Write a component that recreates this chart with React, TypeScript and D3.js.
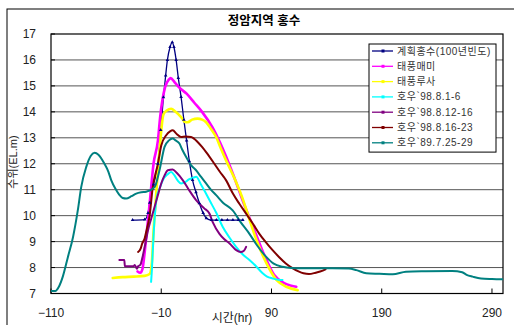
import * as d3 from "d3";

const W = 514;
const H = 325;

const xTicks = [-110, -10, 90, 190, 290];
const yTicks = [7, 8, 9, 10, 11, 12, 13, 14, 15, 16, 17];

// [hour, water level EL.m]
const planFlood = [
  [-36, 9.83], [-25, 9.85], [-22, 10.1], [-20.5, 10.5], [-17, 11.2], [-13, 12.0],
  [-10.5, 13.3], [-8, 14.56], [-6, 15.4], [-4.4, 16.0], [-2, 16.5], [0, 16.68],
  [1.5, 16.5], [3.5, 16.0], [5.5, 15.3], [8, 14.57], [10.5, 13.7], [13, 12.9],
  [15.5, 12.1], [18.4, 11.37], [21.5, 10.9], [24.6, 10.48], [28, 10.1], [31, 9.9],
  [35.5, 9.83], [40, 9.83], [45, 9.83], [50, 9.83], [55, 9.83], [60, 9.83], [64, 9.83],
];
const maemi = [
  [-31.5, 7.85], [-29, 7.8], [-27, 7.95], [-25, 8.6], [-23.5, 9.2], [-20, 10.7],
  [-17, 12.0], [-13, 12.9], [-11, 13.8], [-6.5, 14.95], [-3, 15.25], [-1.5, 15.3],
  [2, 15.15], [6, 14.95], [13, 14.7], [20, 14.35], [27, 14.0], [36.5, 13.4],
  [43, 12.85], [49, 12.26], [56, 11.5], [65.5, 10.4], [74.5, 9.44], [83.5, 8.48],
  [92.5, 7.71], [101.5, 7.4], [108, 7.3], [112.5, 7.26],
];
const rusa = [
  [-54, 7.6], [-45, 7.63], [-35, 7.65], [-25, 7.68], [-20.5, 7.75], [-18.5, 8.2],
  [-17, 9.4], [-15, 10.6], [-11.6, 12.5], [-8, 13.9], [-5, 14.05], [-1, 14.12],
  [3, 14.0], [8, 13.8], [12, 13.6], [14, 13.6], [18, 13.7], [23, 13.74], [27, 13.7],
  [30.7, 13.6], [35, 13.35], [39.8, 13.03], [44, 12.6], [48.8, 12.13], [56.4, 11.44],
  [64.3, 10.6], [70, 9.85], [76.4, 9.06], [85.5, 8.16], [94.5, 7.52], [104, 7.25],
  [113.7, 7.13],
];
const rain980801 = [
  [-19.2, 7.45], [-18.5, 7.9], [-17.5, 8.8], [-16, 9.9], [-14, 10.72], [-11, 11.1],
  [-8.5, 11.37], [-4, 11.6], [-1, 11.68], [2, 11.55], [5, 11.35], [8, 11.24],
  [12, 11.3], [15, 11.4], [18.5, 11.45], [21.7, 11.5], [26, 11.2], [30, 10.9],
  [33.7, 10.6], [40, 10.1], [45.7, 9.57], [52, 9.15], [57.9, 8.8], [64, 8.5],
  [70, 8.29], [76, 8.05], [82, 7.78], [86, 7.65], [91, 7.58], [96, 7.53], [100, 7.52],
];
const rain980812 = [
  [-48, 8.29], [-43.5, 8.29], [-43, 8.05], [-35, 8.05], [-34, 8.1], [-32, 7.95],
  [-31, 8.05], [-29, 8.1], [-27, 8.4], [-25, 8.8], [-22, 9.44], [-19, 9.9],
  [-16, 10.34], [-13, 10.8], [-10, 11.24], [-7, 11.55], [-4, 11.75], [0.4, 11.78],
  [4, 11.65], [9.5, 11.37], [15, 11.0], [21.6, 10.6], [26, 10.4], [29, 10.28],
  [33.7, 10.08], [36.7, 9.75], [42.8, 9.3], [47, 9.1], [52, 8.93], [58, 8.67],
  [62, 8.6], [65, 8.65], [67, 8.8],
];
const rain980816 = [
  [-31, 8.6], [-28.5, 8.75], [-27.5, 8.9], [-25, 9.13], [-23, 9.5], [-20.7, 9.95],
  [-17.7, 11.1], [-13, 12.0], [-10, 12.7], [-5.5, 13.1], [-2, 13.25], [0.4, 13.29],
  [4, 13.15], [8, 13.03], [12, 13.05], [17, 13.03], [23, 12.84], [27, 12.65],
  [30.7, 12.45], [38.2, 12.0], [43, 11.7], [49, 11.35], [55, 10.85], [61, 10.45],
  [67, 10.08], [73, 9.7], [79, 9.3], [85, 8.97], [91, 8.67], [97, 8.4], [103, 8.16],
  [109, 7.98], [115, 7.84], [119, 7.78], [124, 7.75], [130, 7.8], [136.5, 7.88],
  [139, 7.93],
];
const rain890725 = [
  [-110, 7.1], [-106, 7.1], [-103, 7.25], [-99.3, 7.65], [-94.7, 8.4], [-90, 9.18],
  [-85.7, 10.2], [-82.6, 11.1], [-78, 11.88], [-74, 12.3], [-70.5, 12.42], [-67, 12.35],
  [-61.5, 12.0], [-58, 11.7], [-55.4, 11.37], [-51, 11.0], [-48, 10.8], [-45, 10.68],
  [-41.8, 10.66], [-37, 10.75], [-32.7, 10.85], [-28, 10.9], [-23.7, 10.92], [-16, 11.1],
  [-11.6, 11.75], [-7, 12.65], [-3, 12.9], [0.4, 12.97], [3, 12.9], [6.5, 12.78],
  [9, 12.55], [12.6, 12.26], [17, 11.95], [21.6, 11.75], [26, 11.5], [30.7, 11.24],
  [35, 11.0], [39.8, 10.79], [46, 10.5], [54.8, 10.2], [62, 9.75], [70, 9.3],
  [77, 8.85], [85, 8.42], [92, 8.15], [100, 8.03], [108, 7.98], [115, 7.97],
  [130, 7.97], [145, 7.97], [160, 7.96], [167, 7.9], [176, 7.78], [188, 7.76],
  [200, 7.74], [212, 7.84], [230, 7.86], [254, 7.87], [263, 7.82], [267, 7.72],
  [272.5, 7.65], [280, 7.58], [290, 7.56], [300, 7.55],
];

const seriesNames = [
  "계획홍수(100년빈도)",
  "태풍매미",
  "태풍루사",
  "호우`98.8.1-6",
  "호우`98.8.12-16",
  "호우`98.8.16-23",
  "호우`89.7.25-29",
];
const seriesData = [planFlood, maemi, rusa, rain980801, rain980812, rain980816, rain890725];
const seriesColors = ["#000080", "#ff00ff", "#ffff00", "#00ffff", "#800080", "#800000", "#008080"];
const seriesWidths = [1.3, 2.6, 2.6, 2, 2, 2, 2];

const FONT = "'Liberation Sans', 'Noto Sans CJK KR', sans-serif";

export default function App() {
  const left = 51;
  const right = 503;
  const top = 34;
  const bottom = 293.5;

  const x = d3.scaleLinear().domain([-110, 300]).range([left, right]);
  const y = d3.scaleLinear().domain([7, 17]).range([bottom, top]);

  const line = d3
    .line<number[]>()
    .x((d) => x(d[0]))
    .y((d) => y(d[1]))
    .curve(d3.curveMonotoneX);

  // legend geometry
  const lgX = 369;
  const lgY = 44;
  const lgW = 127;
  const lgRow = 15.3;

  return (
    <svg
      width={W}
      height={H}
      style={{ position: "absolute", left: 0, top: 0, background: "#fff" }}
      fontFamily={FONT}
    >
      <rect x={7} y={9} width={520} height={330} fill="#fff" stroke="#000" strokeWidth={1} />

      <text x={264} y={25} textAnchor="middle" fontSize={12.5} fontWeight="bold" fill="#000">
        정암지역 홍수
      </text>

      <defs>
        <clipPath id="plot">
          <rect x={left} y={top} width={right - left} height={bottom - top} />
        </clipPath>
      </defs>

      {/* gridlines */}
      {yTicks.slice(1, -1).map((t) => (
        <line key={t} x1={left} x2={right} y1={y(t)} y2={y(t)} stroke="#555" strokeWidth={1} />
      ))}

      {/* plot frame */}
      <rect x={left} y={top} width={right - left} height={bottom - top} fill="none" stroke="#000" strokeWidth={1.2} />

      {/* x ticks */}
      {xTicks.map((t) => (
        <g key={t}>
          <line x1={x(t)} x2={x(t)} y1={bottom} y2={bottom - 5} stroke="#000" />
          <text x={x(t)} y={317} textAnchor="middle" fontSize={12} fill="#222">
            {t < 0 ? `\u2212${Math.abs(t)}` : t}
          </text>
        </g>
      ))}

      {/* y ticks */}
      {yTicks.map((t) => (
        <g key={t}>
          <line x1={left} x2={left + 4} y1={y(t)} y2={y(t)} stroke="#000" />
          <text x={36} y={y(t) + 4} textAnchor="end" fontSize={12} fill="#222">
            {t}
          </text>
        </g>
      ))}

      <text
        transform={`translate(17,162) rotate(-90)`}
        textAnchor="middle"
        fontSize={11}
        fill="#222"
      >
        수위(EL.m)
      </text>
      <text x={232} y={322} textAnchor="middle" fontSize={12} fill="#222">
        시간(hr)
      </text>

      {/* series */}
      <g clipPath="url(#plot)">
        {seriesData.map((data, i) => (
          <path
            key={seriesNames[i]}
            d={line(data) ?? ""}
            fill="none"
            stroke={seriesColors[i]}
            strokeWidth={seriesWidths[i]}
            strokeLinejoin="round"
            strokeLinecap="round"
          />
        ))}
        {planFlood.map((d, i) => (
          <path
            key={i}
            d={`M${x(d[0])},${y(d[1]) - 2}l1.8,3h-3.6z`}
            fill="#000080"
          />
        ))}
      </g>

      {/* legend */}
      <rect
        x={lgX}
        y={lgY}
        width={lgW}
        height={lgRow * seriesNames.length + 1}
        fill="#fff"
        stroke="#000"
        strokeWidth={1}
      />
      {seriesNames.map((name, i) => {
        const cy = lgY + 7 + i * lgRow;
        return (
          <g key={name}>
            <line x1={lgX + 3} x2={lgX + 24} y1={cy} y2={cy} stroke={seriesColors[i]} strokeWidth={1.3} />
            <rect x={lgX + 12.5} y={cy - 1.5} width={3} height={3} fill={seriesColors[i]} />
            <text x={lgX + 28} y={cy + 3.5} fontSize={10} fill="#333" letterSpacing={0.5}>
              {name}
            </text>
          </g>
        );
      })}
    </svg>
  );
}
